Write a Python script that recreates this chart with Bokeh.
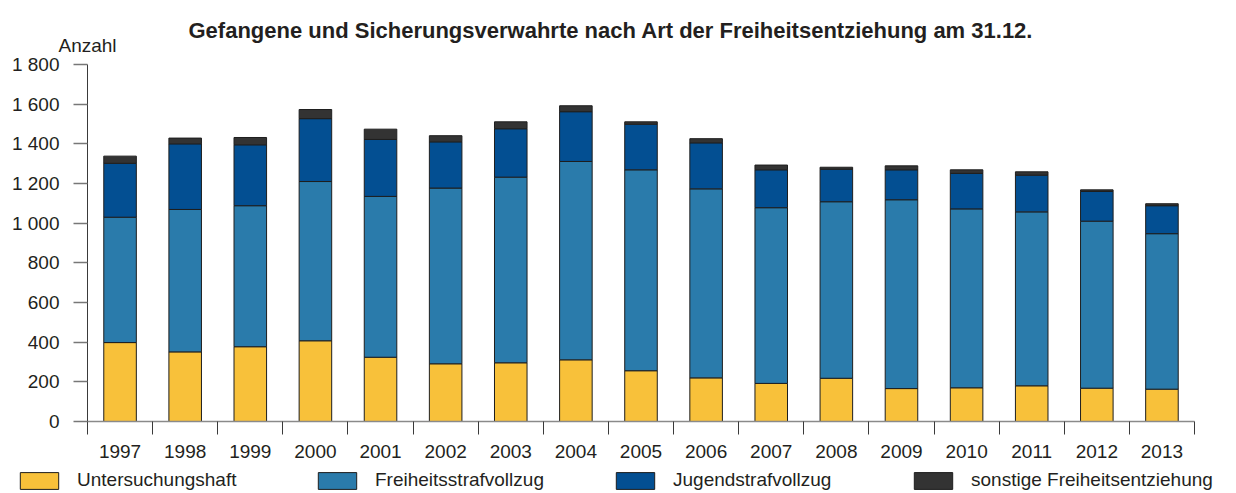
from bokeh.plotting import figure
from bokeh.models import Range1d, FixedTicker, ColumnDataSource, Legend, Label
from bokeh.embed import file_html
from bokeh.resources import INLINE

years = ["1997", "1998", "1999", "2000", "2001", "2002", "2003", "2004", "2005",
         "2006", "2007", "2008", "2009", "2010", "2011", "2012", "2013"]
untersuchungshaft = [398, 351, 377, 407, 324, 291, 296, 311, 256, 220, 192, 218, 166, 170, 180, 168, 163]
freiheitsstrafvollzug = [632, 718, 711, 803, 811, 886, 936, 1000, 1013, 953, 886, 890, 952, 902, 877, 842, 784]
jugendstrafvollzug = [272, 331, 307, 317, 287, 233, 244, 251, 230, 232, 191, 164, 151, 179, 185, 150, 141]
sonstige = [36, 29, 37, 46, 52, 31, 35, 30, 12, 21, 24, 10, 20, 18, 17, 8, 10]

series_names = ["Untersuchungshaft", "Freiheitsstrafvollzug", "Jugendstrafvollzug",
                "sonstige Freiheitsentziehung"]
colors = ["#F8C13A", "#2A7BAB", "#034F92", "#333333"]
y_ticks = [0, 200, 400, 600, 800, 1000, 1200, 1400, 1600, 1800]
y_tick_labels = ["0", "200", "400", "600", "800", "1 000", "1 200", "1 400", "1 600", "1 800"]
title_text = "Gefangene und Sicherungsverwahrte nach Art der Freiheitsentziehung am 31.12."
unit_text = "Anzahl"

FONT = "Liberation Sans"
TXT = "#231f20"

W, H = 1236, 493
# pixel layout of the plotting area inside the canvas
AX_L, AX_R, AX_T, AX_B = 87, 1194, 64, 421
n = len(years)
y_max = 1800
px_x = (AX_R - AX_L) / n
px_y = (AX_B - AX_T) / y_max

centers = [i + 0.5 for i in range(n)]
bounds = list(range(n + 1))

keys = ["u", "f", "j", "s"]
src = ColumnDataSource(dict(x=centers, u=untersuchungshaft, f=freiheitsstrafvollzug,
                            j=jugendstrafvollzug, s=sonstige))

p = figure(width=W, height=H, output_backend="svg", toolbar_location=None,
           x_range=Range1d(-AX_L / px_x, n + (W - AX_R) / px_x),
           y_range=Range1d(-(H - AX_B) / px_y, y_max + AX_T / px_y),
           min_border=0)
p.grid.visible = False
p.outline_line_color = None
p.background_fill_color = "white"

rs = p.vbar_stack(keys, x="x", width=0.5, source=src, color=colors,
                  line_color="#1e1e1e", line_width=1)

# Y axis pinned at x=0
ya = p.yaxis[0]
ya.fixed_location = 0
ya.bounds = (0, y_max)
ya.ticker = FixedTicker(ticks=y_ticks)
ya.major_label_overrides = {t: l for t, l in zip(y_ticks, y_tick_labels)}
ya.major_tick_out = 14
ya.major_tick_in = 0
ya.minor_tick_out = 0
ya.minor_tick_in = 0
ya.axis_line_color = "#3a3a3a"
ya.major_tick_line_color = "#777777"
ya.major_tick_line_width = 1.5
ya.major_label_standoff = 14
ya.major_label_text_font = FONT
ya.major_label_text_font_size = "19px"
ya.major_label_text_color = TXT

# X axis pinned at y=0: labels at centers, ticks at category boundaries
xa = p.xaxis[0]
xa.fixed_location = 0
xa.bounds = (0, n)
xa.ticker = FixedTicker(ticks=centers, minor_ticks=bounds)
xa.major_label_overrides = {c: y for c, y in zip(centers, years)}
xa.major_tick_out = 0
xa.major_tick_in = 0
xa.minor_tick_out = 13
xa.minor_tick_in = 0
xa.minor_tick_line_color = "#3a3a3a"
xa.axis_line_color = "#8a8a8a"
xa.axis_line_width = 1.5
xa.major_label_standoff = 10
xa.major_label_text_font = FONT
xa.major_label_text_font_size = "19px"
xa.major_label_text_color = TXT

# Titles
p.add_layout(Label(x=188, y=H - 30, x_units="screen", y_units="screen",
                   text=title_text, text_font=FONT, text_font_size="22px",
                   text_font_style="bold", text_color=TXT, text_baseline="alphabetic"))
p.add_layout(Label(x=58, y=H - 45, x_units="screen", y_units="screen",
                   text=unit_text, text_font=FONT, text_font_size="19px",
                   text_color=TXT, text_baseline="alphabetic"))

legend = Legend(items=[(nm, [r]) for nm, r in zip(series_names, rs)],
                location=(15, 2), orientation="horizontal",
                glyph_width=48, glyph_height=21, label_standoff=14,
                label_width=222, spacing=14, padding=0, margin=0,
                border_line_color=None, background_fill_alpha=0,
                label_text_font=FONT, label_text_font_size="19px",
                label_text_color=TXT)
p.add_layout(legend, "center")

open("out.html", "w").write(file_html(p, INLINE))
